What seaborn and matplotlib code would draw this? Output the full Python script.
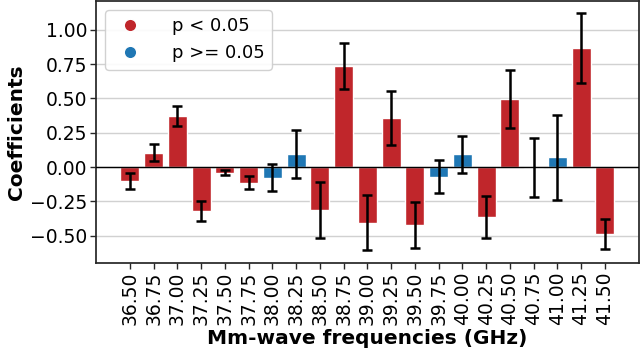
import numpy as np
import pandas as pd
import matplotlib
matplotlib.use("Agg")
import matplotlib.pyplot as plt
from matplotlib.lines import Line2D
import seaborn as sns

freqs = ["36.50", "36.75", "37.00", "37.25", "37.50", "37.75", "38.00", "38.25",
         "38.50", "38.75", "39.00", "39.25", "39.50", "39.75", "40.00", "40.25",
         "40.50", "40.75", "41.00", "41.25", "41.50"]
coefs = [-0.10, 0.105, 0.37, -0.32, -0.04, -0.115, -0.077, 0.095,
         -0.315, 0.737, -0.405, 0.357, -0.423, -0.07, 0.094, -0.365,
         0.498, -0.004, 0.07, 0.865, -0.486]
errs = [0.06, 0.063, 0.074, 0.074, 0.02, 0.047, 0.10, 0.178,
        0.204, 0.166, 0.20, 0.196, 0.167, 0.121, 0.134, 0.152,
        0.21, 0.214, 0.307, 0.256, 0.109]
signif = [True, True, True, True, True, True, False, False,
          True, True, True, True, True, False, False, True,
          True, False, False, True, True]

labels = ["p < 0.05" if s else "p >= 0.05" for s in signif]
df = pd.DataFrame({"freq": freqs, "coef": coefs, "err": errs, "group": labels})

red = "#c0262b"
blue = "#1f77b4"
palette = {"p < 0.05": red, "p >= 0.05": blue}

sns.set_theme(style="whitegrid")
plt.rcParams["font.family"] = ["DejaVu Sans"]
plt.rcParams.update({
    "axes.edgecolor": "0.15",
    "grid.color": "0.82",
    "xtick.bottom": True,
    "ytick.left": True,
    "xtick.color": "0.15",
    "ytick.color": "0.15",
    "xtick.labelcolor": "black",
    "ytick.labelcolor": "black",
    "axes.labelcolor": "black",
    "text.color": "black",
})

fig, ax = plt.subplots(figsize=(6.4, 3.54), dpi=100)
sns.barplot(data=df, x="freq", y="coef", hue="group", palette=palette,
            dodge=False, errorbar=None, saturation=1, width=0.8, ax=ax,
            legend=False, order=freqs, hue_order=["p < 0.05", "p >= 0.05"])
pos = np.arange(len(freqs))
ax.errorbar(pos, df["coef"], yerr=df["err"], fmt="none", ecolor="black",
            elinewidth=1.8, capsize=3.5, capthick=1.8, zorder=5)
ax.axhline(0, color="black", lw=1.0, zorder=4)

ax.set_xlim(-1.43, len(freqs) - 1 + 1.43)
ax.set_ylim(-0.70, 1.21)
ax.set_yticks([-0.5, -0.25, 0, 0.25, 0.5, 0.75, 1.0])
ax.set_yticklabels(["\u22120.50", "\u22120.25", "0.00", "0.25", "0.50", "0.75", "1.00"])
ax.tick_params(axis="x", rotation=90, labelsize=13.5, length=4, width=1, pad=2)
ax.tick_params(axis="y", labelsize=13.5, length=4, width=1, pad=2)
ax.xaxis.grid(False)
ax.set_xlabel("Mm-wave frequencies (GHz)", fontsize=14.5, fontweight="bold", labelpad=3)
ax.set_ylabel("Coefficients", fontsize=14.5, fontweight="bold", labelpad=3)

handles = [Line2D([0], [0], marker="o", color="w", markerfacecolor=red, markersize=9, label="p < 0.05"),
           Line2D([0], [0], marker="o", color="w", markerfacecolor=blue, markersize=9, label="p >= 0.05")]
ax.legend(handles=handles, loc="upper left", fontsize=13, handletextpad=1.3,
          borderaxespad=0.5, framealpha=0.9)

fig.subplots_adjust(left=0.15, right=0.998, top=0.997, bottom=0.257)
fig.savefig("out.png", dpi=100)
